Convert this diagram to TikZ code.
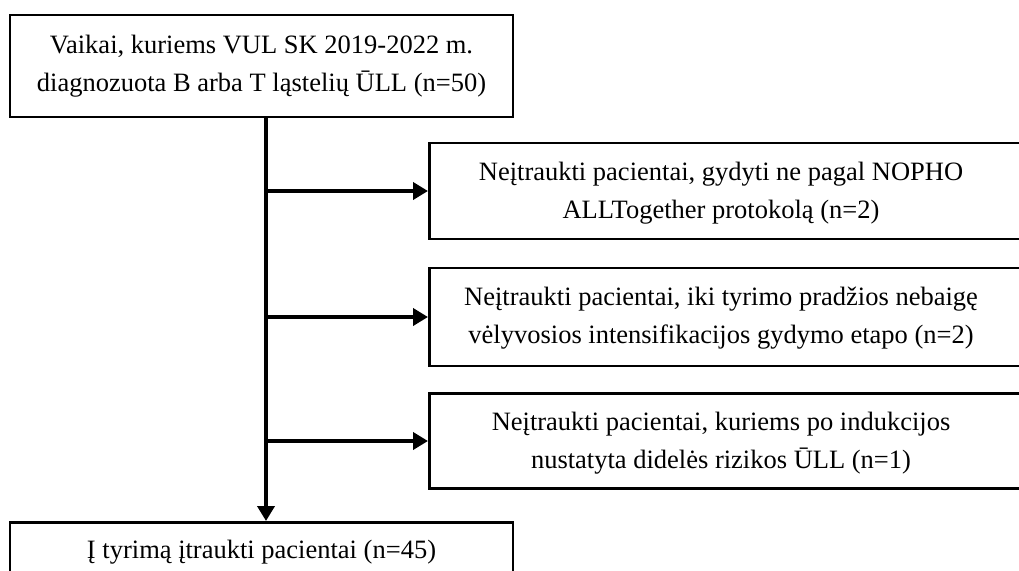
\documentclass[tikz,border=0pt]{standalone}
\usepackage{fontspec}
\setmainfont{Liberation Serif}
\usetikzlibrary{arrows.meta}
\begin{document}
\begin{tikzpicture}[x=1pt,y=-1pt,
  box/.style={draw=black, line width=2.7pt, inner sep=0pt, align=center,
    font=\fontsize{26.5}{37.5}\selectfont},
  conn/.style={line width=3.8pt, -{Triangle[length=15pt,width=17pt]}}]
\useasboundingbox (0,0) rectangle (1019,570);
\node[box, minimum width=503pt, minimum height=102pt] (top) at (261.5,66)
  {Vaikai, kuriems VUL SK 2019-2022 m.\\diagnozuota B arba T ląstelių ŪLL (n=50)};
\node[box, minimum width=604pt, minimum height=96pt, anchor=west] (ex1) at (428,191) {};
\node[box, minimum width=604pt, minimum height=98pt, anchor=west] (ex2) at (428,317) {};
\node[box, minimum width=604pt, minimum height=95pt, anchor=west] (ex3) at (428,441) {};
\node[font=\fontsize{26.5}{37.5}\selectfont, align=center] (t1) at (721,193)
  {Neįtraukti pacientai, gydyti ne pagal NOPHO\\ALLTogether protokolą (n=2)};
\node[font=\fontsize{26.5}{37.5}\selectfont, align=center] (t2) at (721,318)
  {Neįtraukti pacientai, iki tyrimo pradžios nebaigę\\vėlyvosios intensifikacijos gydymo etapo (n=2)};
\node[font=\fontsize{26.5}{37.5}\selectfont, align=center] (t3) at (721,443)
  {Neįtraukti pacientai, kuriems po indukcijos\\nustatyta didelės rizikos ŪLL (n=1)};
\node[box, minimum width=503pt, minimum height=60pt, anchor=north] (bot) at (261.5,521)
  {Į tyrimą įtraukti pacientai (n=45)};
\coordinate (a1) at (266,191);
\coordinate (a2) at (266,317);
\coordinate (a3) at (266,441);
\draw[conn] (top.south -| a1) -- (bot.north -| a1);
\draw[conn] (a1) -- (ex1.west);
\draw[conn] (a2) -- (ex2.west);
\draw[conn] (a3) -- (ex3.west);
\end{tikzpicture}
\end{document}
